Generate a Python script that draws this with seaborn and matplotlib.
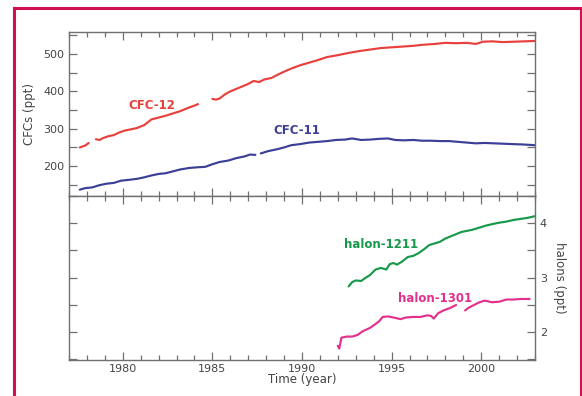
import numpy as np
import pandas as pd
import matplotlib
matplotlib.use("Agg")
import matplotlib.pyplot as plt
import seaborn as sns
from matplotlib.ticker import MultipleLocator
from matplotlib.patches import Rectangle

# ---------------- data ----------------
nan = np.nan
cfc12_year = [1977.6, 1977.9, 1978.1, 1978.3, 1978.5, 1978.7, 1978.9, 1979.2, 1979.5, 1979.8,
              1980.1, 1980.4, 1980.8, 1981.2, 1981.6, 1982.0, 1982.4, 1982.8, 1983.2, 1983.6,
              1984.0, 1984.2, 1984.6, 1985.0, 1985.2, 1985.4, 1985.7, 1986.0, 1986.5, 1987.0,
              1987.3, 1987.6, 1987.9, 1988.3, 1988.7, 1989.1, 1989.5, 1989.9, 1990.4, 1990.9,
              1991.4, 1992.0, 1992.6, 1993.2, 1993.8, 1994.4, 1995.0, 1995.6, 1996.2, 1996.8,
              1997.4, 1998.0, 1998.6, 1999.2, 1999.7, 2000.1, 2000.6, 2001.2, 2001.8, 2002.4, 2003.0]
cfc12_ppt = [250, 255, 262, nan, 272, 270, 275, 280, 283, 290,
             295, 298, 302, 310, 325, 330, 335, 341, 347, 355,
             362, 366, nan, 380, 378, 381, 392, 400, 410, 420,
             428, 425, 432, 436, 446, 455, 463, 470, 477, 484,
             492, 497, 503, 508, 512, 516, 518, 520, 522, 525,
             527, 530, 529, 530, 527, 533, 534, 532, 533, 534, 535]

cfc11_year = [1977.6, 1977.9, 1978.3, 1978.7, 1979.1, 1979.5, 1979.9, 1980.3, 1980.8, 1981.2,
              1981.6, 1982.0, 1982.4, 1982.8, 1983.2, 1983.7, 1984.2, 1984.6, 1985.0, 1985.4,
              1985.9, 1986.3, 1986.8, 1987.1, 1987.4, 1987.55, 1987.7, 1988.1, 1988.6, 1989.0,
              1989.4, 1989.9, 1990.4, 1990.9, 1991.4, 1991.9, 1992.4, 1992.8, 1993.3, 1993.8,
              1994.3, 1994.8, 1995.2, 1995.7, 1996.2, 1996.7, 1997.2, 1997.7, 1998.2, 1998.7,
              1999.2, 1999.7, 2000.2, 2000.7, 2001.2, 2001.7, 2002.3, 2003.0]
cfc11_ppt = [137, 141, 143, 149, 153, 155, 161, 163, 166, 170,
             175, 179, 181, 186, 191, 195, 197, 198, 205, 211,
             215, 221, 226, 231, 230, nan, 234, 240, 245, 250,
             256, 259, 263, 265, 267, 270, 271, 274, 270, 271,
             273, 274, 270, 269, 270, 268, 268, 267, 267, 265,
             263, 261, 262, 261, 260, 259, 258, 256]

h1211_year = [1992.6, 1992.8, 1993.0, 1993.3, 1993.55, 1993.8, 1994.1, 1994.4, 1994.7, 1994.9,
              1995.1, 1995.3, 1995.6, 1995.9, 1996.2, 1996.5, 1996.8, 1997.1, 1997.4, 1997.7,
              1998.0, 1998.3, 1998.6, 1998.9, 1999.2, 1999.5, 1999.7, 2000.0, 2000.3, 2000.7,
              2001.0, 2001.4, 2001.8, 2002.2, 2002.6, 2003.0]
h1211_ppt = [2.84, 2.92, 2.95, 2.94, 3.00, 3.05, 3.15, 3.18, 3.15, 3.25,
             3.27, 3.24, 3.30, 3.38, 3.40, 3.45, 3.52, 3.60, 3.63, 3.66,
             3.72, 3.76, 3.80, 3.84, 3.86, 3.88, 3.90, 3.93, 3.96, 3.99,
             4.01, 4.03, 4.06, 4.08, 4.10, 4.13]

h1301_year = [1992.0, 1992.08, 1992.2, 1992.5, 1992.8, 1993.1, 1993.4, 1993.8, 1994.1, 1994.3,
              1994.5, 1994.8, 1995.1, 1995.5, 1995.8, 1996.2, 1996.6, 1997.0, 1997.2, 1997.35,
              1997.6, 1997.9, 1998.3, 1998.6, 1998.9, 1999.1, 1999.3, 1999.6, 1999.9, 2000.2,
              2000.6, 2001.0, 2001.4, 2001.8, 2002.2, 2002.7]
h1301_ppt = [1.75, 1.70, 1.90, 1.92, 1.92, 1.95, 2.02, 2.08, 2.15, 2.20,
             2.28, 2.29, 2.27, 2.24, 2.27, 2.28, 2.28, 2.31, 2.30, 2.25,
             2.35, 2.40, 2.45, 2.50, nan, 2.40, 2.45, 2.50, 2.55, 2.58,
             2.55, 2.56, 2.60, 2.60, 2.61, 2.61]

x_major = [1980, 1985, 1990, 1995, 2000]

col12 = "#e8403c"
col11 = "#3b3f95"
col1211 = "#17994a"
col1301 = "#e2318c"


def segments(years, vals):
    v = np.asarray(vals, dtype=float)
    seg = np.cumsum(np.isnan(v))
    df = pd.DataFrame({"year": years, "val": v, "seg": seg})
    return df.dropna()


sns.set_theme(style="white")
plt.rcParams["font.family"] = ["DejaVu Sans"]

fig = plt.figure(figsize=(5.82, 3.96), dpi=100)
W, H = 582, 396
ax_left, ax_w, ax_h = 69 / W, 466 / W, 164 / H
ax1 = fig.add_axes([ax_left, (H - 196) / H, ax_w, ax_h])
ax2 = fig.add_axes([ax_left, (H - 360) / H, ax_w, ax_h])

lw = 1.55
sns.lineplot(data=segments(cfc12_year, cfc12_ppt), x="year", y="val", units="seg",
             estimator=None, color=col12, lw=lw, ax=ax1)
sns.lineplot(data=segments(cfc11_year, cfc11_ppt), x="year", y="val", units="seg",
             estimator=None, color=col11, lw=lw, ax=ax1)
sns.lineplot(data=segments(h1211_year, h1211_ppt), x="year", y="val", units="seg",
             estimator=None, color=col1211, lw=lw, ax=ax2)
sns.lineplot(data=segments(h1301_year, h1301_ppt), x="year", y="val", units="seg",
             estimator=None, color=col1301, lw=lw, ax=ax2)

spine_col = "#707070"
tick_col = "#444444"
for ax in (ax1, ax2):
    ax.set_xlim(1977, 2003)
    ax.set_xticks(x_major)
    ax.xaxis.set_minor_locator(MultipleLocator(1))
    for s in ax.spines.values():
        s.set_color(spine_col)
        s.set_linewidth(1.0)
        s.set_visible(True)
    ax.tick_params(which="both", direction="in", top=True, bottom=True, left=True, right=True,
                   color=spine_col, width=0.9, labelsize=8, labelcolor=tick_col)
    ax.tick_params(axis="x", which="major", length=6)
    ax.tick_params(axis="x", which="minor", length=3.5)
    ax.tick_params(axis="y", which="both", length=6)
    ax.set_xlabel("")
    ax.set_ylabel("")
    ax.grid(False)

ax1.set_ylim(120, 559)
ax1.set_yticks([200, 300, 400, 500])
ax1.yaxis.set_minor_locator(MultipleLocator(50))
ax1.tick_params(labelbottom=False, labelright=False, labelleft=True)
ax1.set_ylabel("CFCs (ppt)", fontsize=8.5, color=tick_col, labelpad=5)

ax2.set_ylim(1.49, 4.5)
ax2.set_yticks([2, 3, 4])
ax2.yaxis.set_minor_locator(MultipleLocator(0.5))
ax2.tick_params(labelleft=False, labelright=True, labelbottom=True)
ax2.tick_params(axis="x", pad=3)
ax2.yaxis.set_label_position("right")
ax2.set_ylabel("halons (ppt)", fontsize=8.5, color=tick_col, rotation=270, labelpad=14)
ax2.set_xlabel("Time (year)", fontsize=8.5, color=tick_col, labelpad=-1)

lab_kw = dict(fontsize=8.5, fontweight="bold", ha="center", va="center")
ax1.text(1981.6, 361, "CFC-12", color=col12, **lab_kw)
ax1.text(1989.7, 294, "CFC-11", color=col11, **lab_kw)
ax2.text(1994.4, 3.61, "halon-1211", color=col1211, **lab_kw)
ax2.text(1997.4, 2.62, "halon-1301", color=col1301, **lab_kw)

# crimson frame around the figure
fig.patches.append(Rectangle((14 / W, -0.05), (580.5 - 14) / W, (H - 8) / H + 0.05,
                             transform=fig.transFigure, fill=False,
                             edgecolor="#d0104f", linewidth=2.2))

fig.savefig("out.png", dpi=100)
